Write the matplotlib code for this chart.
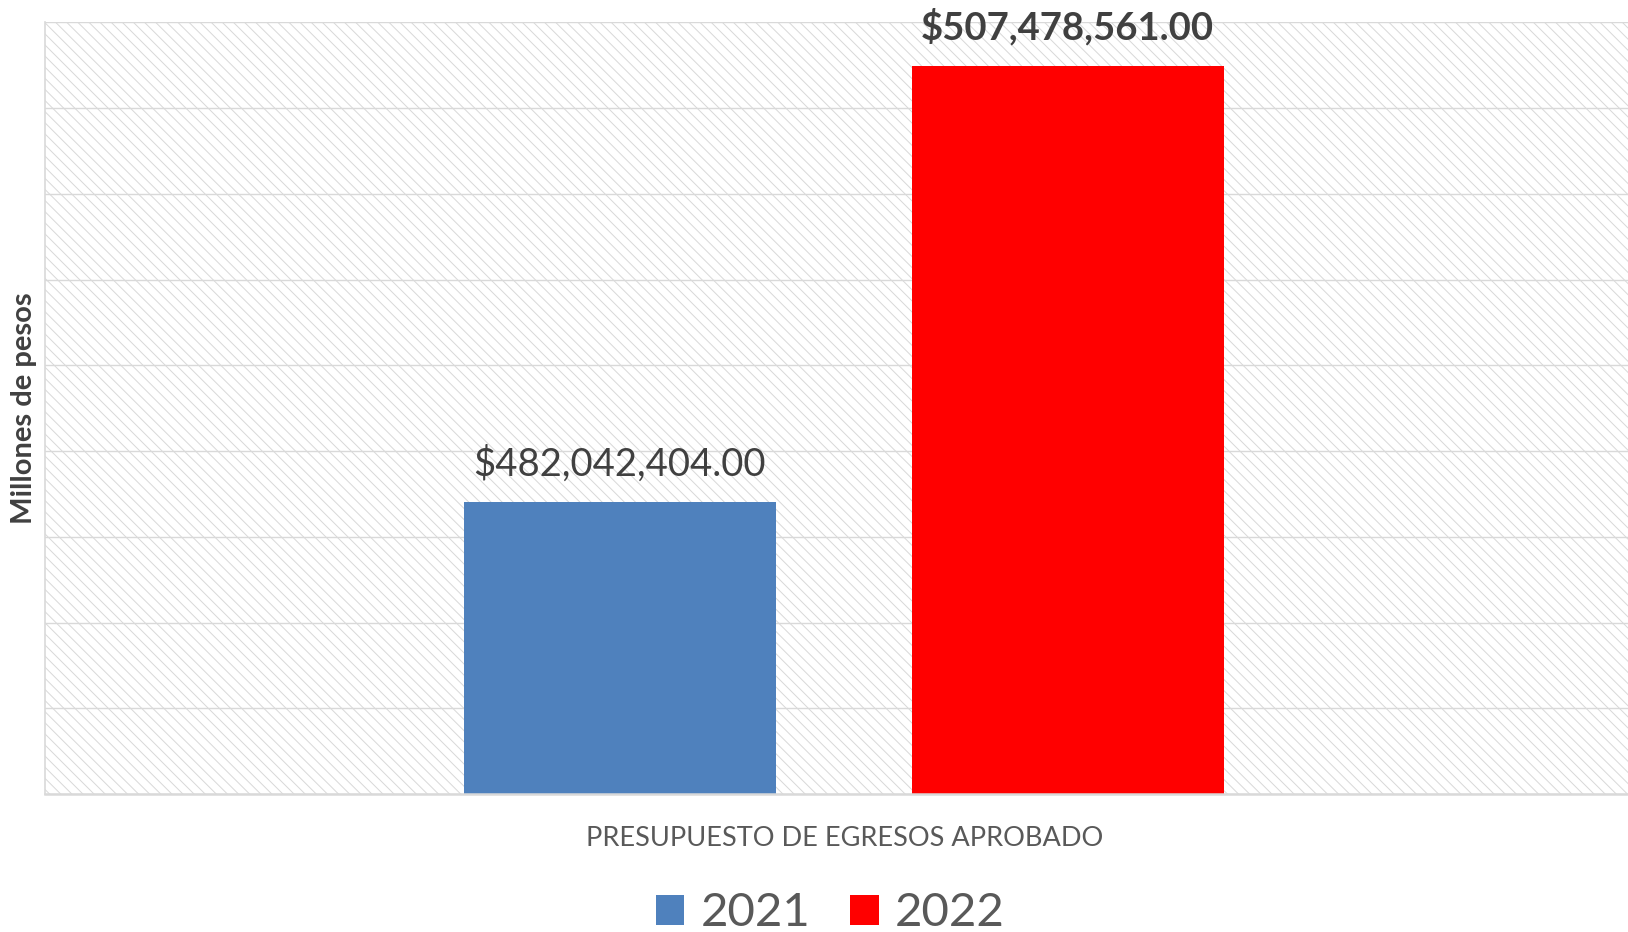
import matplotlib
matplotlib.use("Agg")
import matplotlib.pyplot as plt
from matplotlib.patches import Rectangle

# data
category = ['PRESUPUESTO DE EGRESOS APROBADO']
years = ['2021', '2022']
values = [482042404.00, 507478561.00]
labels = ['$482,042,404.00', '$507,478,561.00']
colors = ['#4F81BD', '#FF0000']

plt.rcParams['font.family'] = ['Lato', 'DejaVu Sans']
plt.rcParams['hatch.linewidth'] = 0.7

fig = plt.figure(figsize=(16.28, 9.32), dpi=100)
ax = fig.add_axes([0.0276, 0.148, 0.9724, 0.828])

# hatched background of the plot area
bg = Rectangle((0, 0), 1, 1, transform=ax.transAxes, facecolor='white',
               edgecolor='#d8d8d8', hatch='\\\\\\', linewidth=0, zorder=0)
ax.add_patch(bg)

offsets = [-0.137, 0.146]
width = 0.197
for i in range(2):
    ax.bar(offsets[i], values[i], width=width, color=colors[i], label=years[i], zorder=3)

ax.text(offsets[0], values[0] + 1.1e6, labels[0], ha='center', va='bottom',
        fontsize=27.5, color='#404040', zorder=4)
ax.text(offsets[1], values[1] + 1.2e6, labels[1], ha='center', va='bottom',
        fontsize=27.5, color='#404040', fontweight='bold', zorder=4)

ax.set_xlim(-0.5, 0.5)
ax.set_ylim(465e6, 510e6)
ax.set_yticks([465e6 + 5e6 * k for k in range(10)])
ax.yaxis.grid(True, color='#d9d9d9', linewidth=1.0, zorder=1)
ax.set_axisbelow(True)
ax.tick_params(axis='y', length=0, labelleft=False)
ax.set_xticks([0.005])
ax.set_xticklabels(category, fontsize=19.5, color='#595959')
ax.tick_params(axis='x', length=0, pad=23)

for s in ['top', 'right']:
    ax.spines[s].set_visible(False)
ax.spines['left'].set_color('#d9d9d9')
ax.spines['left'].set_linewidth(1.2)
ax.spines['bottom'].set_color('#d9d9d9')
ax.spines['bottom'].set_linewidth(1.8)
ax.spines['left'].set_zorder(5)
ax.spines['bottom'].set_zorder(5)

fig.text(0.0145, 0.5625, 'Millones de pesos', rotation=90, ha='center', va='center',
         fontsize=21, fontweight='bold', color='#404040')

leg = fig.legend(loc='center', bbox_to_anchor=(0.51, 0.02), ncol=2, frameon=False,
                 fontsize=34, handlelength=0.6, handleheight=0.6,
                 handletextpad=0.35, columnspacing=0.85, labelcolor='#595959')

fig.savefig('out.png', dpi=100)
